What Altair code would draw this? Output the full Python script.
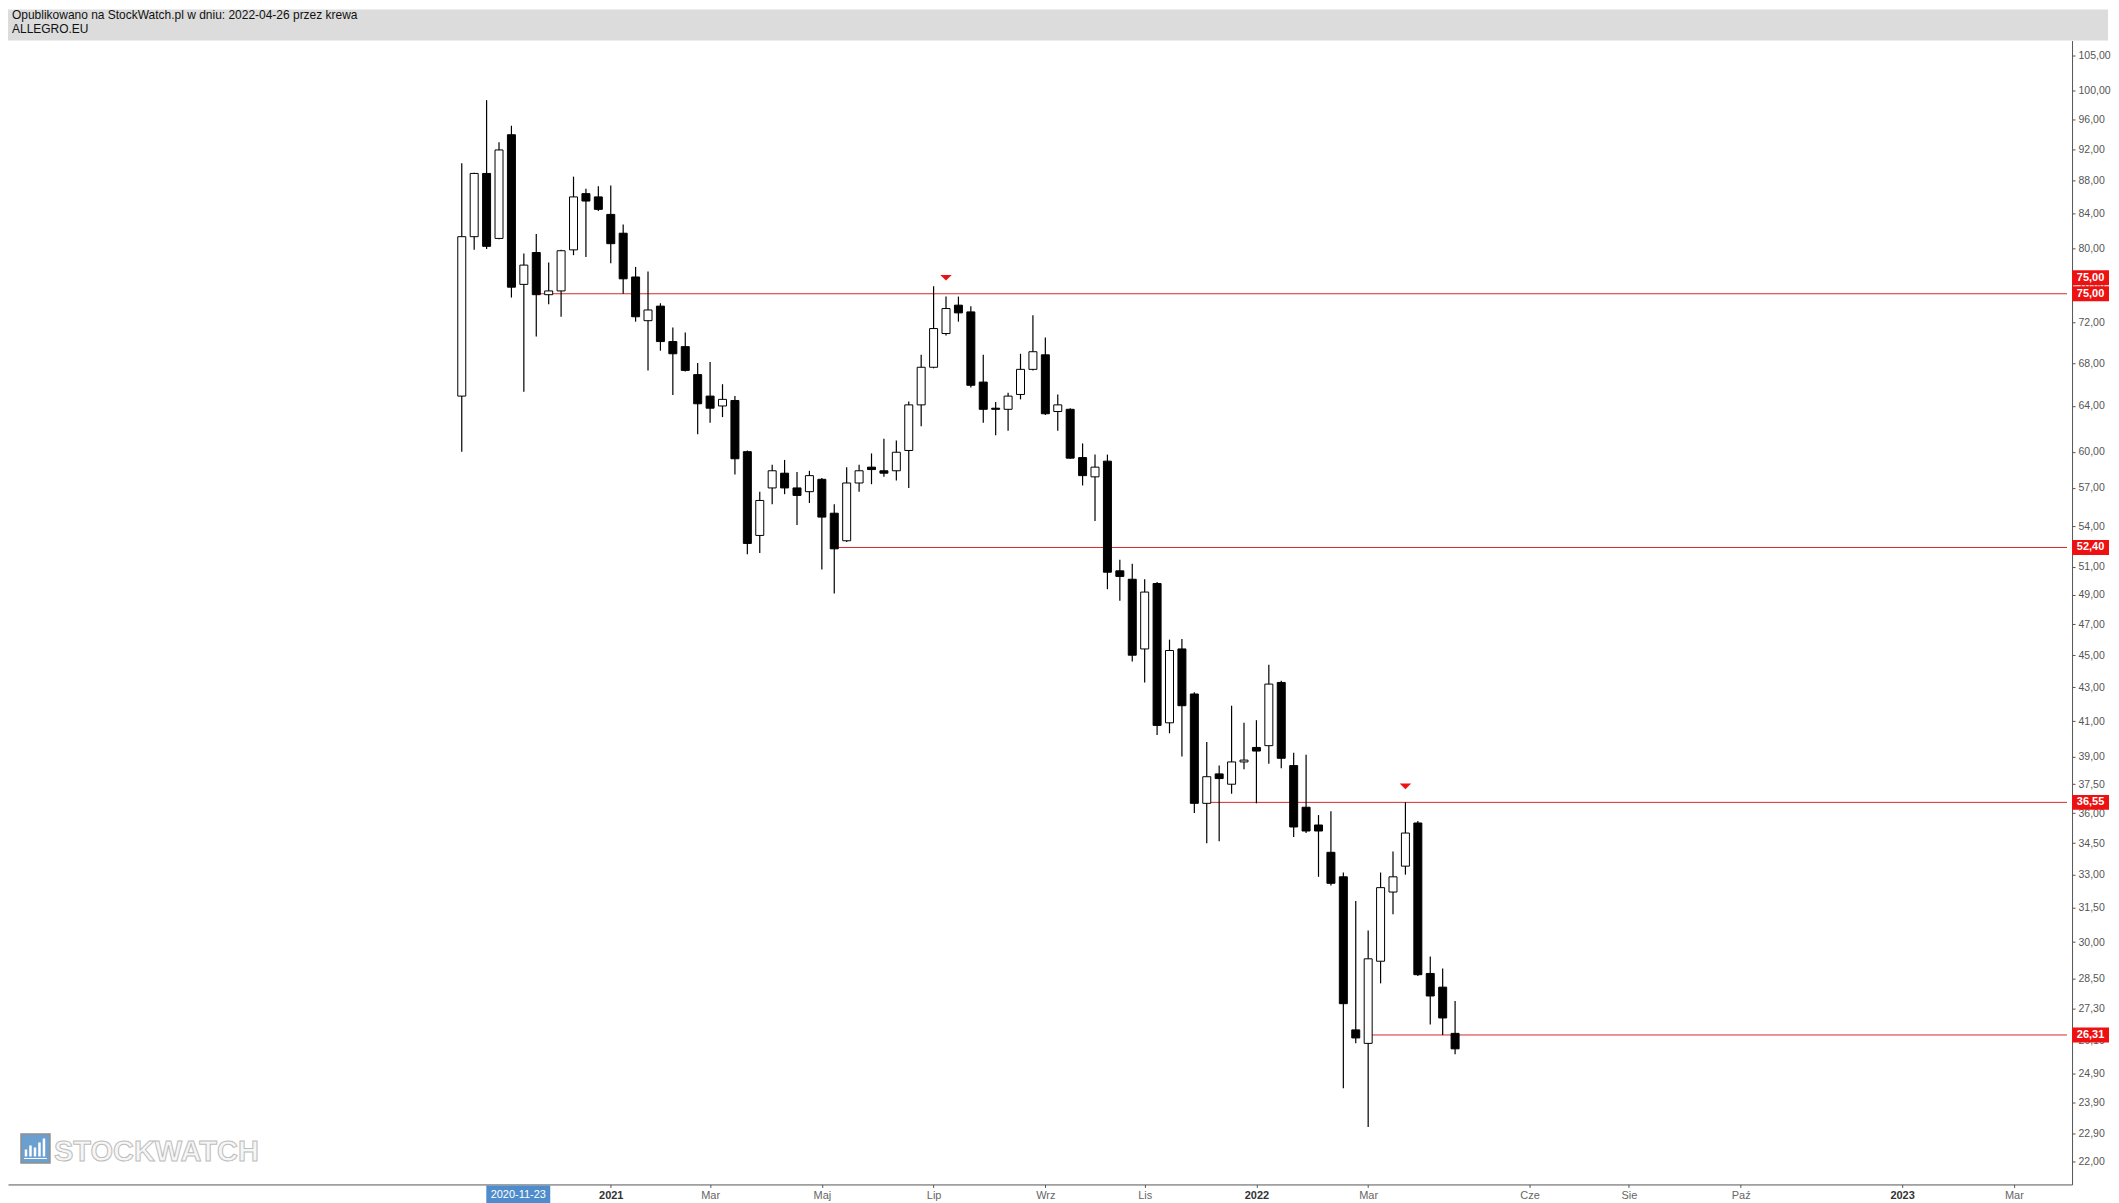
import altair as alt
import pandas as pd

# ---------------- data ----------------
header_line1 = "Opublikowano na StockWatch.pl w dniu: 2022-04-26 przez krewa"
header_line2 = "ALLEGRO.EU"
watermark = "STOCKWATCH"

first_week = "2020-10-12"  # weekly candles, Monday dates

opens = [64.9, 81.3, 88.9, 81.1, 93.9, 76.0, 79.5, 74.9, 75.3, 79.8,
         86.4, 86.0, 83.9, 81.7, 76.8, 72.2, 73.7, 70.1, 69.6, 66.9,
         64.9, 64.0, 64.5, 60.0, 53.3, 57.0, 58.2, 57.0, 56.7, 57.7,
         55.0, 52.9, 57.4, 58.7, 58.4, 58.4, 60.1, 64.1, 67.6, 70.9,
         73.8, 73.1, 66.2, 63.8, 63.7, 65.05, 67.4, 68.8, 63.5, 63.7,
         59.5, 57.9, 59.2, 50.7, 50.1, 45.4, 49.8, 40.9, 45.4, 42.6,
         36.5, 38.05, 37.5, 38.7, 39.5, 39.6, 43.3, 38.5, 36.3, 35.4,
         34.06, 32.9, 26.5, 26.0, 29.2, 32.2, 33.4, 35.5, 28.7, 28.15,
         26.37]
highs = [90.2, 89.0, 98.6, 92.9, 95.1, 79.4, 81.6, 78.4, 79.8, 88.5,
         87.0, 87.3, 87.4, 82.7, 77.9, 77.4, 74.0, 71.5, 71.0, 68.0,
         68.1, 66.0, 64.9, 60.1, 56.7, 58.9, 59.3, 58.3, 58.4, 57.8,
         55.7, 58.7, 58.9, 59.85, 61.1, 60.95, 64.4, 68.8, 75.8, 74.7,
         74.7, 73.7, 68.8, 64.35, 65.2, 68.9, 72.75, 70.5, 65.05, 63.8,
         60.7, 59.75, 59.75, 51.5, 51.2, 50.1, 49.9, 46.0, 46.05, 42.7,
         39.8, 38.5, 41.9, 40.9, 41.05, 44.4, 43.4, 39.2, 39.1, 35.9,
         36.1, 33.1, 31.8, 30.5, 33.1, 34.1, 36.55, 35.6, 29.4, 28.9,
         27.6]
lows = [60.0, 79.8, 79.9, 81.0, 74.6, 65.3, 70.6, 73.9, 72.6, 79.2,
        79.0, 84.3, 78.3, 75.0, 72.1, 67.3, 69.2, 65.0, 67.2, 61.5,
        62.5, 63.0, 58.1, 51.9, 52.0, 55.7, 56.5, 54.1, 55.8, 50.8,
        49.1, 52.8, 56.7, 57.3, 57.9, 57.6, 57.0, 62.2, 67.5, 70.7,
        72.1, 65.7, 62.5, 61.4, 61.8, 64.6, 67.3, 63.2, 61.8, 59.4,
        57.2, 54.4, 49.4, 48.6, 44.6, 43.3, 40.2, 40.3, 39.0, 36.0,
        34.5, 34.6, 37.0, 38.3, 36.5, 38.6, 38.35, 34.8, 35.0, 32.9,
        32.5, 24.4, 26.0, 23.1, 28.3, 31.2, 33.0, 28.6, 26.7, 26.31,
        25.6]
closes = [81.3, 88.9, 80.2, 91.9, 75.7, 78.1, 74.9, 75.3, 79.7, 86.0,
          85.5, 84.5, 80.5, 76.6, 72.6, 73.3, 70.1, 68.9, 67.3, 64.2,
          63.8, 64.6, 59.4, 52.7, 56.0, 58.4, 57.0, 56.4, 58.0, 54.7,
          52.3, 57.4, 58.4, 58.5, 58.2, 59.95, 64.1, 67.6, 71.4, 73.45,
          73.0, 65.9, 63.7, 63.7, 64.9, 67.4, 69.1, 63.3, 64.1, 59.45,
          58.0, 58.7, 50.6, 50.3, 45.0, 49.2, 40.75, 45.3, 41.9, 36.5,
          37.9, 37.8, 38.7, 38.8, 39.3, 43.2, 38.9, 35.3, 35.1, 35.1,
          32.6, 27.5, 26.2, 29.3, 32.4, 32.9, 35.0, 28.65, 27.8, 26.95,
          25.8]

# horizontal levels drawn on the chart
level_values = [75.0, 52.40, 36.55, 26.31]
level_starts = ["2020-11-23", "2021-05-10", "2021-12-06", "2022-03-07"]

# marker triangles
marker_dates = ["2021-07-12", "2022-03-28"]
marker_levels = [75.0, 36.55]

# highlighted date on the time axis
highlight_date = "2020-11-23"

# axis ticks
y_ticks = [105, 100, 96, 92, 88, 84, 80, 76, 72, 68, 64, 60, 57, 54, 51, 49,
           47, 45, 43, 41, 39, 37.5, 36, 34.5, 33, 31.5, 30, 28.5, 27.3, 26.1,
           24.9, 23.9, 22.9, 22]
x_tick_dates = ["2021-01-04", "2021-03-01", "2021-05-03", "2021-07-05",
                "2021-09-06", "2021-11-01", "2022-01-03", "2022-03-07",
                "2022-06-06", "2022-08-01", "2022-10-03", "2023-01-02",
                "2023-03-06"]
x_tick_labels = ["2021", "Mar", "Maj", "Lip", "Wrz", "Lis", "2022", "Mar",
                 "Cze", "Sie", "Paź", "2023", "Mar"]

x_start, x_end = "2020-02-02", "2023-04-05"
y_min, y_max = 21.30, 107.27

# ---------------- layout / style ----------------
W, H = 2066, 1145
FONT = "Liberation Sans"
RED_LINE = "#d42a2a"
RED_BOX = "#ee1111"
AX = "#555555"


def ms(d):
    return int(pd.Timestamp(d, tz="UTC").timestamp() * 1000)


dates = pd.date_range(first_week, periods=len(opens), freq="7D").strftime("%Y-%m-%d").tolist()
candles = pd.DataFrame({"date": dates, "open": opens, "high": highs,
                        "low": lows, "close": closes})
candles["kind"] = ["up" if c >= o else "down" for o, c in zip(opens, closes)]

levels = pd.DataFrame({"start": level_starts, "end": [x_end] * len(level_values),
                       "level": level_values})
markers = pd.DataFrame({"date": marker_dates, "level": marker_levels})
dummy = pd.DataFrame({"a": [0]})

d_list = ",".join(f"'{d}'" for d in x_tick_dates)
l_list = ",".join(f"'{l}'" for l in x_tick_labels)
x_label_expr = f"[{l_list}][indexof([{d_list}], utcFormat(datum.value, '%Y-%m-%d'))]"

x_scale = alt.Scale(type="utc", domain=[ms(x_start), ms(x_end)])
y_scale = alt.Scale(type="log", domain=[y_min, y_max], nice=False, zero=False)

x_axis = alt.Axis(
    orient="bottom", values=[ms(d) for d in x_tick_dates], labelExpr=x_label_expr,
    title=None, grid=False, tickSize=3, labelPadding=2, labelFontSize=11,
    labelFont=FONT,
    labelColor={"condition": {"test": "utcmonth(datum.value) == 0", "value": "#333333"},
                "value": "#666666"},
    labelFontWeight={"condition": {"test": "utcmonth(datum.value) == 0", "value": "bold"},
                     "value": "normal"},
    domainColor=AX, tickColor=AX, labelOverlap=False, labelFlush=False,
)
y_axis = alt.Axis(
    orient="right", values=y_ticks,
    labelExpr="replace(format(datum.value, '.2f'), '.', ',')",
    title=None, grid=False, tickSize=3, labelPadding=3, labelFontSize=10.5,
    labelFont=FONT, labelColor="#555555", domainColor=AX, tickColor=AX,
    labelOverlap=False, labelFlush=False,
)


def X(field):
    return alt.X(field, scale=x_scale, axis=x_axis)


def Y(field):
    return alt.Y(field, scale=y_scale, axis=y_axis)


# header band and texts
band = alt.Chart(dummy).mark_rect(color="#dcdcdc").encode(
    x=alt.value(0), x2=alt.value(W + 36), y=alt.value(-31), y2=alt.value(0))
head1 = alt.Chart(dummy).mark_text(align="left", baseline="alphabetic", font=FONT,
                                   fontSize=12, color="#111111", text=header_line1).encode(
    x=alt.value(4), y=alt.value(-21.5))
head2 = alt.Chart(dummy).mark_text(align="left", baseline="alphabetic", font=FONT,
                                   fontSize=12, color="#111111", text=header_line2).encode(
    x=alt.value(4), y=alt.value(-7.5))

# watermark (logo square with small white bars + word mark)
logo_sq = alt.Chart(dummy).mark_point(shape="square", filled=True, size=841, opacity=1,
                                      color="#6b9fd0", stroke="#8f8f8f", strokeWidth=1.5).encode(
    x=alt.value(27.5), y=alt.value(1109))
logo_bar_df = pd.DataFrame({"bx": [18, 22.5, 27, 31.5, 36], "btop": [1110, 1106, 1108, 1103, 1099]})
logo_bars = alt.Chart(logo_bar_df).mark_rule(color="white", strokeWidth=2.5).encode(
    x=alt.X("bx:Q", scale=None), y=alt.Y("btop:Q", scale=None), y2=alt.value(1117))
logo_base = alt.Chart(dummy).mark_rule(color="white", strokeWidth=1).encode(
    x=alt.value(16), x2=alt.value(39), y=alt.value(1119))
logo_txt = alt.Chart(dummy).mark_text(
    align="left", baseline="alphabetic", font=FONT,
    fontSize=29, fontWeight="bold", color="#f6f6f6", stroke="#bdbdbd", strokeWidth=1,
    text=watermark).encode(x=alt.value(46), y=alt.value(1122))

# level lines
lines = alt.Chart(levels).mark_rule(color=RED_LINE, strokeWidth=1).encode(
    x=X("start:T"), x2="end:T", y=Y("level:Q"))

# candles
wicks = alt.Chart(candles).mark_rule(color="black", strokeWidth=1.2).encode(
    x=X("date:T"), y=Y("low:Q"), y2="high:Q")
bodies = alt.Chart(candles).mark_bar(size=8, stroke="black", strokeWidth=1).encode(
    x=X("date:T"), y=Y("open:Q"), y2="close:Q",
    fill=alt.Fill("kind:N", scale=alt.Scale(domain=["up", "down"], range=["white", "black"]),
                  legend=None))

# markers (flat downward triangles)
TRI = "M-1,-0.5L1,-0.5L0,0.5Z"
tri = alt.Chart(markers).mark_point(shape=TRI, filled=True, color=RED_BOX,
                                    size=130, opacity=1, strokeWidth=0, yOffset=-16).encode(
    x=X("date:T"), y=Y("level:Q"))

# price labels on the right axis
BOX = "M-1,-0.405H1V0.405H-1Z"
lab_df = pd.DataFrame({"level": level_values})
lab_calc = "replace(format(datum.level, '.2f'), '.', ',')"
boxes = alt.Chart(lab_df).mark_point(shape=BOX, filled=True, color=RED_BOX, size=1369,
                                     opacity=1, strokeWidth=0).encode(
    x=alt.value(W + 18.5), y=Y("level:Q"))
box_txt = alt.Chart(lab_df).transform_calculate(lbl=lab_calc).mark_text(
    color="white", fontWeight="bold", fontSize=11, font=FONT, align="center",
    baseline="middle").encode(x=alt.value(W + 18.5), y=Y("level:Q"), text="lbl:N")
top_df = pd.DataFrame({"level": [level_values[0]]})
box_top = alt.Chart(top_df).mark_point(shape=BOX, filled=True, color=RED_BOX, size=1369,
                                       opacity=1, strokeWidth=0, yOffset=-16).encode(
    x=alt.value(W + 18.5), y=Y("level:Q"))
box_top_txt = alt.Chart(top_df).transform_calculate(lbl=lab_calc).mark_text(
    color="white", fontWeight="bold", fontSize=11, font=FONT, align="center",
    baseline="middle", yOffset=-16).encode(x=alt.value(W + 18.5), y=Y("level:Q"), text="lbl:N")

# highlighted date on time axis
hl_df = pd.DataFrame({"date": [highlight_date]})
hl_box = alt.Chart(hl_df).mark_point(shape="M-1,-0.281H1V0.281H-1Z", filled=True,
                                     color="#4f8ccb", size=4096, opacity=1, strokeWidth=0,
                                     xOffset=-18).encode(
    x=X("date:T"), y=alt.value(H + 10))
hl_txt = alt.Chart(hl_df).mark_text(color="white", fontSize=11, font=FONT, align="center",
                                    baseline="middle", xOffset=-18, text=highlight_date).encode(
    x=X("date:T"), y=alt.value(H + 10.5))

chart = alt.layer(
    band, head1, head2, logo_sq, logo_bars, logo_base, logo_txt, lines, wicks, bodies, tri,
    boxes, box_txt, box_top, box_top_txt, hl_box, hl_txt
).properties(width=W, height=H, padding=0).configure_view(stroke=None)

chart.save("out.html", embed_options={"renderer": "svg", "actions": False})
